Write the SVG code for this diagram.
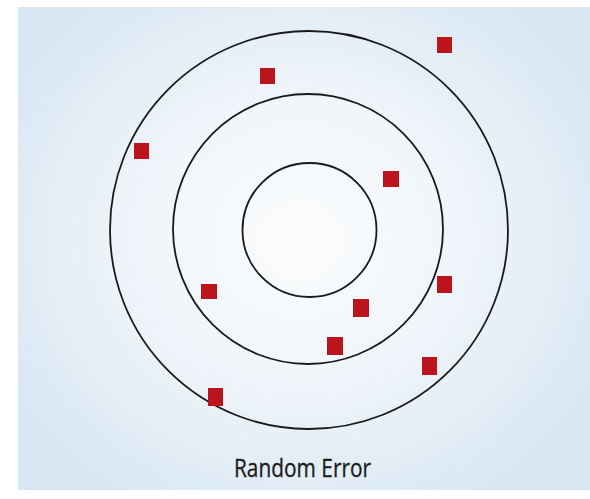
<svg xmlns="http://www.w3.org/2000/svg" width="590" height="499" viewBox="0 0 590 499">
  <defs>
    <radialGradient id="bg" cx="300" cy="240" r="330" gradientUnits="userSpaceOnUse" gradientTransform="translate(300 240) scale(1 0.9) translate(-300 -240)">
      <stop offset="0" stop-color="#fbfcfd"/>
      <stop offset="0.45" stop-color="#f1f6fa"/>
      <stop offset="1" stop-color="#d9e7f3"/>
    </radialGradient>
  </defs>
  <style>
    .ring { fill: none; stroke: #1a1a1a; stroke-width: 1.8; }
    .hit { fill: #bb141d; }
    .label { font-family: "Open Sans", "Liberation Sans", sans-serif; font-size: 26px; fill: #1c1c1c; stroke: #1c1c1c; stroke-width: 0.35; }
  </style>
  <rect x="0" y="0" width="590" height="499" fill="#ffffff"/>
  <rect x="18" y="7" width="572" height="483" fill="url(#bg)"/>
  <g id="target">
    <circle id="ring-outer" class="ring" cx="309" cy="230" r="199"/>
    <circle id="ring-middle" class="ring" cx="308" cy="229" r="135"/>
    <circle id="ring-inner" class="ring" cx="309.5" cy="230" r="67"/>
  </g>
  <g id="hits">
    <rect class="hit" x="437" y="37" width="15" height="16"/>
    <rect class="hit" x="260" y="68" width="15" height="16"/>
    <rect class="hit" x="134" y="143" width="15" height="16"/>
    <rect class="hit" x="383" y="171" width="16" height="16"/>
    <rect class="hit" x="201" y="284" width="16" height="15"/>
    <rect class="hit" x="437" y="276" width="15" height="17"/>
    <rect class="hit" x="353" y="299" width="16" height="18"/>
    <rect class="hit" x="327" y="337" width="16" height="18"/>
    <rect class="hit" x="422" y="357" width="15" height="18"/>
    <rect class="hit" x="208" y="388" width="15" height="18"/>
  </g>
  <text class="label" x="234" y="477" textLength="137" lengthAdjust="spacingAndGlyphs">Random Error</text>
</svg>
